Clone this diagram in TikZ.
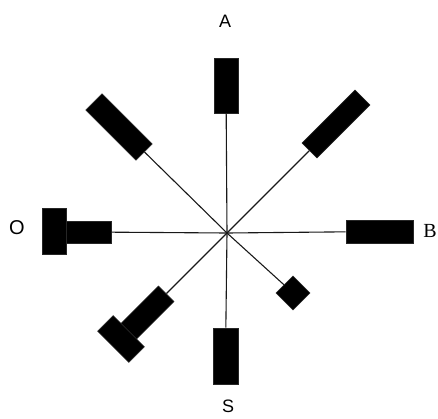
\documentclass[tikz,border=0pt]{standalone}
\usepackage{fontspec}
\setmainfont{Liberation Serif}
\setsansfont{Liberation Sans}
\setmonofont{Liberation Mono}
\usetikzlibrary{positioning}
\tikzset{
  %% black bar at the end of a spoke
  BAR/.style 2 args={rectangle, draw=black!85, fill=black, line width=0.6pt,
            inner sep=0pt, minimum width=#1, minimum height=#2},
  %% spoke line
  SP/.style={line width=1.1pt, draw=black!90},
  %% letter labels
  LS/.style={font=\sffamily\fontsize{18}{18}\selectfont, inner sep=0pt},
  LR/.style={font=\rmfamily\fontsize{20}{20}\selectfont, inner sep=0pt},
  LO/.style={font=\sffamily\fontsize{20}{20}\selectfont, inner sep=0pt},
}
\begin{document}
\begin{tikzpicture}[x=1pt, y=-1pt]
\useasboundingbox (0,0) rectangle (438,418);

%% centre of the star
\coordinate (c) at (227,233);

%% straight bars
\node[BAR={24pt}{55pt}] (top)   at (226,85.5)  {};
\node[BAR={25pt}{56pt}] (bot)   at (225.5,356) {};
\node[BAR={67pt}{23pt}] (rgt)   at (379.5,231.5) {};

%% left T bar
\node[BAR={45pt}{22pt}] (lft)   at (88.5,232) {};
\node[BAR={24pt}{46pt}] (lfthd) at (54,231)   {};

%% diagonal bars
\node[BAR={71pt}{23pt}, rotate=-45] (tl) at (119,127) {};
\node[BAR={75pt}{21pt}, rotate=45]  (tr) at (336,124) {};

%% lower left T bar
\node[BAR={53pt}{22pt}, rotate=45] (bl)   at (147.5,312.5) {};
\node[BAR={22pt}{44pt}, rotate=45] (blhd) at (121,339)     {};

%% small square
\node[BAR={24pt}{24pt}, rotate=45] (sq) at (293,293) {};

%% spokes
\foreach \n in {top, bot, rgt, lft, tl, tr, bl, sq}
  \draw[SP] (c) -- (\n);

%% labels
\node[LS] (la) at (225,21)  {A};
\node[LS] (ls) at (228,406) {S};
\node[LO] (lo) at (17,228)  {O};
\node[LR, anchor=east] (lb) at (437,231) {B};

\end{tikzpicture}
\end{document}
